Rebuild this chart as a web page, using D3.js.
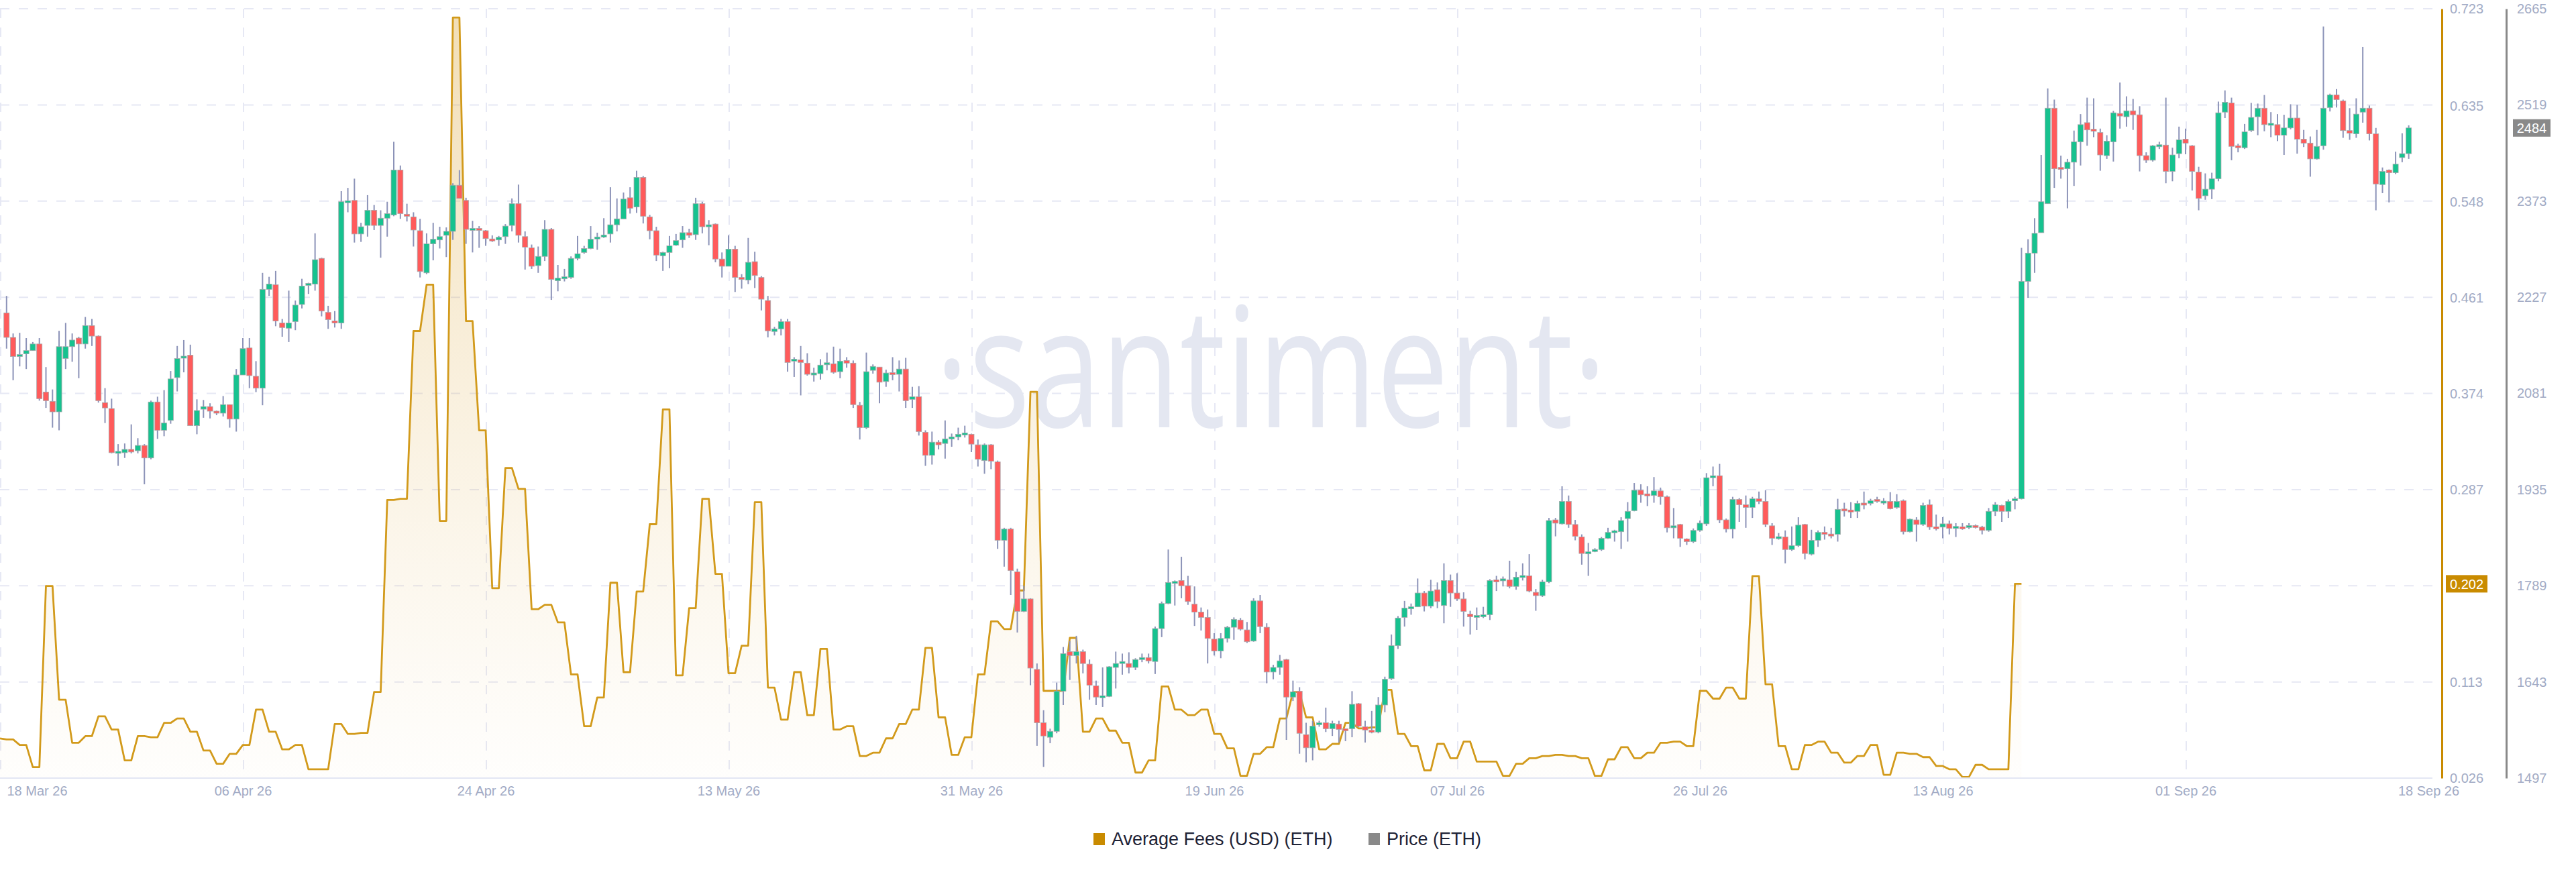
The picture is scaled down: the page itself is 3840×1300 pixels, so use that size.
<!DOCTYPE html>
<html><head><meta charset="utf-8">
<script src="https://cdn.jsdelivr.net/npm/d3@7"></script>
<style>html,body{margin:0;padding:0;background:#fff;}svg{display:block;font-family:"Liberation Sans",Arial,sans-serif;}</style>
</head><body><svg id="chart" width="3840" height="1300"></svg>
<script>
// ---- DATA ----
// 12h ETH candles [open, high, low, close]
const ohlc = [
[2203,2229,2149,2166],[2166,2172,2101,2137],[2137,2173,2122,2140],[2141,2165,2118,2146],[2146,2159,2146,2156],
[2156,2165,2070,2073],[2083,2121,2059,2070],[2069,2087,2029,2053],[2053,2176,2025,2152],[2134,2188,2118,2152],
[2152,2172,2129,2162],[2165,2167,2104,2156],[2156,2197,2149,2184],[2184,2194,2153,2168],[2168,2169,2067,2070],
[2067,2089,2036,2059],[2058,2073,1990,1991],[1991,2004,1971,1992],[1991,2005,1983,1996],[1996,2034,1990,1992],
[1994,2013,1990,2002],[2002,2004,1943,1983],[1983,2070,1981,2068],[2068,2076,2012,2025],[2025,2086,2016,2036],
[2040,2115,2035,2103],[2105,2153,2084,2134],[2135,2162,2113,2137],[2139,2155,2032,2032],[2032,2072,2019,2055],
[2057,2071,2044,2061],[2061,2066,2043,2054],[2054,2055,2048,2051],[2051,2077,2046,2064],[2064,2064,2029,2042],
[2042,2118,2023,2109],[2109,2165,2109,2149],[2150,2165,2089,2108],[2107,2130,2083,2089],[2089,2264,2063,2239],
[2239,2258,2229,2247],[2246,2267,2183,2191],[2188,2194,2167,2181],[2180,2237,2159,2188],[2190,2222,2177,2215],
[2216,2255,2210,2244],[2245,2249,2232,2248],[2247,2324,2237,2284],[2286,2287,2198,2206],[2204,2214,2179,2193],
[2191,2206,2181,2188],[2188,2388,2179,2372],[2371,2393,2356,2373],[2374,2407,2310,2323],[2323,2340,2311,2334],
[2336,2382,2319,2359],[2359,2367,2329,2336],[2336,2359,2287,2347],[2347,2372,2319,2354],[2352,2463,2350,2420],
[2420,2427,2346,2354],[2353,2369,2342,2350],[2349,2356,2304,2329],[2328,2346,2257,2266],[2264,2324,2262,2308],
[2308,2340,2283,2315],[2314,2334,2301,2319],[2321,2333,2288,2327],[2327,2400,2314,2397],[2397,2420,2377,2377],
[2374,2378,2308,2330],[2329,2343,2295,2331],[2331,2335,2302,2329],[2328,2329,2305,2316],[2315,2321,2311,2313],
[2314,2320,2305,2318],[2319,2338,2308,2335],[2336,2377,2327,2369],[2369,2398,2310,2321],[2319,2327,2269,2303],
[2302,2307,2270,2274],[2275,2304,2264,2289],[2289,2344,2282,2330],[2330,2332,2223,2254],[2252,2276,2236,2256],
[2256,2270,2251,2257],[2257,2289,2255,2286],[2286,2320,2283,2293],[2295,2305,2293,2301],[2301,2335,2300,2315],
[2316,2325,2299,2318],[2319,2347,2317,2321],[2323,2394,2310,2337],[2337,2377,2327,2346],[2346,2386,2346,2376],
[2378,2394,2354,2362],[2364,2419,2355,2409],[2409,2411,2339,2350],[2349,2352,2315,2328],[2328,2334,2282,2291],
[2290,2296,2267,2295],[2295,2320,2271,2305],[2306,2323,2305,2313],[2314,2335,2302,2325],[2325,2331,2317,2321],
[2322,2378,2314,2369],[2369,2372,2324,2334],[2334,2344,2306,2337],[2338,2339,2280,2285],[2285,2295,2257,2274],
[2274,2321,2274,2300],[2300,2305,2235,2257],[2257,2262,2240,2254],[2253,2317,2247,2280],[2281,2296,2241,2260],
[2257,2259,2207,2224],[2222,2229,2166,2176],[2175,2182,2169,2179],[2179,2194,2169,2190],[2190,2194,2114,2128],
[2130,2136,2106,2133],[2132,2153,2078,2128],[2127,2142,2108,2110],[2110,2120,2099,2111],[2111,2133,2102,2124],
[2125,2143,2116,2127],[2126,2152,2111,2113],[2114,2149,2104,2130],[2131,2136,2120,2127],[2127,2131,2059,2064],
[2063,2068,2011,2029],[2029,2143,2027,2114],[2116,2125,2111,2122],[2121,2121,2066,2098],[2099,2117,2091,2112],
[2112,2136,2101,2110],[2110,2131,2084,2118],[2118,2135,2059,2070],[2072,2091,2059,2076],[2076,2092,2017,2023],
[2022,2025,1971,1987],[1987,2023,1973,2007],[2007,2010,1996,2003],[2005,2040,1982,2012],[2012,2020,2000,2015],
[2015,2029,2010,2019],[2019,2032,2014,2020],[2019,2020,1992,2004],[2003,2011,1970,1981],[1979,2005,1959,2003],
[2003,2004,1966,1978],[1977,1979,1845,1858],[1858,1877,1818,1875],[1875,1877,1775,1812],[1810,1815,1718,1750],
[1750,1789,1749,1769],[1769,1770,1638,1664],[1662,1671,1546,1581],[1581,1600,1514,1561],[1559,1572,1550,1568],
[1568,1642,1565,1629],[1629,1696,1608,1686],[1689,1705,1646,1683],[1683,1713,1671,1689],[1689,1692,1656,1671],
[1670,1677,1616,1638],[1637,1645,1608,1620],[1620,1665,1605,1621],[1621,1667,1620,1666],[1665,1689,1633,1671],
[1671,1686,1654,1674],[1671,1688,1656,1665],[1665,1679,1661,1677],[1677,1686,1673,1680],[1680,1686,1671,1675],
[1674,1727,1655,1724],[1724,1765,1711,1762],[1762,1844,1761,1794],[1793,1797,1759,1795],[1797,1833,1770,1789],
[1789,1804,1760,1765],[1761,1788,1728,1749],[1749,1756,1721,1741],[1741,1753,1671,1709],[1708,1717,1683,1690],
[1690,1717,1679,1709],[1709,1728,1703,1726],[1726,1741,1707,1738],[1737,1740,1721,1723],[1722,1734,1702,1704],
[1705,1770,1704,1766],[1766,1775,1717,1727],[1726,1732,1641,1658],[1658,1669,1647,1665],[1665,1684,1654,1675],
[1677,1678,1555,1620],[1620,1645,1614,1628],[1629,1635,1534,1565],[1563,1581,1521,1543],[1543,1584,1524,1576],
[1578,1584,1575,1581],[1581,1604,1567,1572],[1572,1584,1561,1580],[1579,1584,1551,1571],[1571,1572,1553,1570],
[1572,1629,1559,1609],[1610,1611,1574,1576],[1575,1584,1551,1570],[1569,1599,1565,1567],[1567,1620,1565,1608],
[1608,1651,1597,1647],[1648,1715,1646,1698],[1698,1743,1693,1740],[1741,1766,1727,1755],[1755,1762,1745,1756],
[1757,1800,1757,1778],[1778,1781,1750,1758],[1758,1798,1755,1781],[1783,1794,1755,1765],[1759,1823,1732,1797],
[1797,1806,1757,1778],[1778,1808,1766,1769],[1769,1779,1727,1750],[1746,1751,1715,1742],[1742,1756,1722,1743],
[1742,1757,1740,1745],[1745,1799,1737,1797],[1798,1804,1781,1795],[1797,1803,1788,1799],[1798,1827,1785,1788],
[1788,1810,1783,1802],[1802,1823,1797,1804],[1804,1837,1779,1781],[1779,1784,1751,1774],[1774,1798,1772,1795],
[1795,1892,1793,1888],[1889,1892,1864,1884],[1883,1940,1882,1917],[1917,1926,1877,1882],[1882,1889,1858,1864],
[1863,1867,1821,1838],[1838,1854,1804,1840],[1841,1846,1840,1844],[1844,1863,1842,1861],[1861,1877,1860,1870],
[1870,1874,1856,1872],[1871,1893,1845,1888],[1891,1916,1856,1902],[1903,1945,1902,1934],[1934,1943,1915,1927],
[1928,1940,1910,1926],[1926,1954,1915,1933],[1933,1938,1912,1924],[1924,1926,1870,1877],[1877,1907,1861,1880],
[1882,1883,1848,1861],[1860,1861,1851,1856],[1856,1876,1854,1873],[1873,1888,1871,1884],[1883,1960,1880,1953],
[1953,1970,1940,1956],[1956,1974,1884,1889],[1889,1891,1870,1875],[1875,1924,1861,1920],[1920,1922,1886,1912],
[1912,1926,1877,1908],[1908,1924,1892,1921],[1921,1932,1913,1917],[1917,1934,1878,1882],[1880,1884,1851,1861],
[1861,1869,1859,1863],[1863,1873,1823,1844],[1844,1879,1842,1850],[1850,1893,1848,1881],[1882,1883,1829,1838],
[1837,1874,1835,1858],[1858,1873,1848,1870],[1870,1879,1859,1867],[1867,1877,1861,1865],[1867,1921,1856,1905],
[1905,1915,1894,1903],[1904,1916,1892,1901],[1902,1918,1892,1914],[1914,1932,1905,1912],[1914,1921,1911,1918],
[1920,1924,1915,1917],[1915,1922,1912,1917],[1917,1931,1905,1906],[1908,1928,1906,1917],[1918,1920,1867,1871],
[1871,1891,1870,1890],[1889,1893,1856,1882],[1882,1915,1880,1911],[1912,1920,1874,1878],[1878,1897,1873,1876],
[1878,1893,1861,1883],[1883,1888,1867,1876],[1876,1884,1863,1879],[1878,1884,1874,1876],[1878,1884,1875,1880],
[1880,1882,1876,1878],[1878,1880,1867,1873],[1873,1907,1871,1902],[1902,1916,1895,1912],[1911,1912,1886,1902],
[1902,1920,1892,1917],[1918,1924,1905,1921],[1921,2302,1920,2251],[2251,2315,2226,2294],[2294,2347,2264,2324],
[2325,2443,2325,2372],[2369,2544,2369,2514],[2514,2527,2393,2422],[2423,2442,2407,2422],[2422,2437,2362,2432],
[2432,2480,2396,2463],[2463,2505,2427,2489],[2492,2530,2457,2481],[2482,2529,2470,2479],[2477,2483,2419,2443],
[2442,2473,2437,2464],[2463,2510,2433,2507],[2506,2553,2483,2502],[2501,2532,2486,2510],[2510,2528,2481,2504],
[2504,2517,2418,2442],[2442,2447,2431,2435],[2435,2458,2433,2457],[2457,2463,2452,2457],[2458,2530,2400,2418],
[2418,2454,2403,2443],[2445,2486,2438,2466],[2467,2483,2444,2461],[2457,2458,2389,2418],[2417,2425,2359,2377],
[2381,2415,2375,2391],[2391,2416,2376,2407],[2407,2524,2403,2507],[2508,2541,2499,2523],[2522,2530,2435,2456],
[2457,2460,2447,2454],[2454,2490,2452,2478],[2480,2522,2478,2500],[2501,2521,2473,2514],[2514,2534,2479,2489],
[2489,2508,2470,2490],[2489,2505,2464,2473],[2473,2504,2443,2484],[2484,2520,2482,2499],[2499,2519,2445,2467],
[2467,2481,2455,2461],[2461,2471,2410,2437],[2437,2481,2436,2456],[2457,2638,2451,2514],[2515,2536,2509,2534],
[2534,2543,2515,2527],[2525,2527,2469,2480],[2480,2514,2466,2476],[2475,2529,2469,2505],[2508,2607,2492,2514],
[2514,2518,2465,2475],[2475,2484,2359,2399],[2398,2424,2385,2418],[2420,2421,2371,2416],[2416,2448,2414,2429],
[2439,2476,2432,2445],[2445,2488,2437,2484]
];
// daily average fee (USD) — each day spans two 12h slots
const avgFeesDaily = [
0.062,0.061,0.056,0.036,0.200,0.097,0.058,0.064,0.082,0.070,0.042,0.064,0.063,0.076,0.080,0.068,
0.051,0.039,0.048,0.056,0.088,0.068,0.052,0.056,0.034,0.034,0.075,0.066,0.067,0.104,0.278,0.279,
0.431,0.473,0.259,0.715,0.440,0.341,0.198,0.307,0.288,0.179,0.183,0.167,0.120,0.073,0.099,0.203,
0.122,0.195,0.256,0.360,0.119,0.180,0.279,0.211,0.121,0.146,0.276,0.108,0.079,0.122,0.083,
0.143,0.070,0.073,0.046,0.049,0.062,0.075,0.088,0.144,0.081,0.047,0.063,0.120,0.168,0.161,0.196,
0.376,0.105,0.105,0.153,0.068,0.080,0.069,0.058,0.031,0.042,0.109,0.088,0.083,0.088,
0.066,0.053,0.028,0.048,0.054,0.080,0.104,0.081,0.052,0.057,0.076,0.071,0.072,0.106,0.066,0.055,
0.033,0.057,0.044,0.059,0.041,0.041,0.028,0.039,0.044,0.046,0.047,0.046,0.044,0.028,0.043,
0.054,0.044,0.049,0.058,0.059,0.055,0.105,0.098,0.108,0.098,0.209,0.111,0.055,0.034,0.056,0.059,
0.049,0.040,0.046,0.056,0.029,0.049,0.048,0.045,0.037,0.034,0.027,0.038,0.034,0.034,0.202
];
const xTickLabels = ["18 Mar 26","06 Apr 26","24 Apr 26","13 May 26","31 May 26","19 Jun 26","07 Jul 26","26 Jul 26","13 Aug 26","01 Sep 26","18 Sep 26"];
const feeTickValues = [0.026,0.113,0.200,0.287,0.374,0.461,0.548,0.635,0.723];
const feeTickLabels = ["0.026","0.113","0.200","0.287","0.374","0.461","0.548","0.635","0.723"];
const priceTickValues = [1497,1643,1789,1935,2081,2227,2373,2519,2665];
const seriesNames = ["Average Fees (USD) (ETH)","Price (ETH)"];
const seriesColors = ["#c98b00","#898989"];
const lastFee = 0.202, lastPrice = 2484;

// ---- LAYOUT ----
const svg = d3.select("#chart");
const plotTop = 13, plotBottom = 1160, plotRight = 3626;
const feeAxisX = 3640, priceAxisX = 3736;
const slotsTotal = 370;

const x = d3.scaleLinear().domain([0, slotsTotal]).range([0, 3620]);
const yFee = d3.scaleLinear().domain([0.026, 0.723]).range([plotBottom, plotTop]);
const yPrice = d3.scaleLinear().domain([1497, 2665]).range([plotBottom, plotTop]);

const defs = svg.append("defs");
const grad = defs.append("linearGradient").attr("id","feeGrad")
  .attr("gradientUnits","userSpaceOnUse").attr("x1",0).attr("x2",0).attr("y1",plotTop).attr("y2",plotBottom);
grad.append("stop").attr("offset","0%").attr("stop-color","#d9a233").attr("stop-opacity",0.36);
grad.append("stop").attr("offset","100%").attr("stop-color","#e8c070").attr("stop-opacity",0.02);

svg.append("rect").attr("width",3840).attr("height",1300).attr("fill","#fff");

// grid
const grid = svg.append("g");
grid.selectAll(".hg").data(priceTickValues.slice(1)).join("line")
  .attr("x1",0).attr("x2",plotRight).attr("y1",d=>yPrice(d)).attr("y2",d=>yPrice(d))
  .attr("stroke","#e6e8f4").attr("stroke-width",2).attr("stroke-dasharray","14,14");
const tickIdx = xTickLabels.map((_,i)=> i*slotsTotal/(xTickLabels.length-1));
grid.selectAll(".vg").data(tickIdx.slice(0,-1)).join("line")
  .attr("x1",d=>x(d)+1).attr("x2",d=>x(d)+1).attr("y1",plotTop).attr("y2",plotBottom)
  .attr("stroke","#e6e8f4").attr("stroke-width",2).attr("stroke-dasharray","14,14");

// watermark
svg.append("text").text("·santiment·")
  .attr("x",1394).attr("y",637).attr("textLength",1001).attr("lengthAdjust","spacingAndGlyphs")
  .attr("font-family","'Open Sans',sans-serif").attr("font-size",250)
  .attr("fill","#e4e7f1");

// fee series points
const feePts = [[0, avgFeesDaily[0]]];
for (let k=1;k<avgFeesDaily.length;k++){ feePts.push([2*k-1, avgFeesDaily[k]]); feePts.push([2*k, avgFeesDaily[k]]); }
svg.append("path").datum(feePts)
  .attr("d", d3.area().x(d=>x(d[0])).y0(plotBottom).y1(d=>yFee(d[1])))
  .attr("fill","url(#feeGrad)");
svg.append("path").datum(feePts)
  .attr("d", d3.line().x(d=>x(d[0])).y(d=>yFee(d[1])))
  .attr("fill","none").attr("stroke","#d29a1b").attr("stroke-width",2.8).attr("stroke-linejoin","round");

// candles
const cg = svg.append("g");
const candles = ohlc.map((d,i)=>({i:i+1,o:d[0],h:d[1],l:d[2],c:d[3]}));
cg.selectAll(".wick").data(candles).join("line")
  .attr("x1",d=>x(d.i)).attr("x2",d=>x(d.i)).attr("y1",d=>yPrice(d.h)).attr("y2",d=>yPrice(d.l))
  .attr("stroke","#8c93b8").attr("stroke-width",2);
cg.selectAll(".body").data(candles).join("rect")
  .attr("x",d=>x(d.i)-4).attr("width",8)
  .attr("y",d=>{const a=yPrice(Math.max(d.o,d.c)), b=yPrice(Math.min(d.o,d.c)); return (b-a<3)?(a+b)/2-1.5:a;})
  .attr("height",d=>Math.max(3, yPrice(Math.min(d.o,d.c))-yPrice(Math.max(d.o,d.c))))
  .attr("fill",d=>d.c>=d.o?"#17c28f":"#ff5b5b")
  .attr("stroke","#a8a8ab").attr("stroke-width",0.8);

// x axis
svg.append("line").attr("x1",0).attr("x2",plotRight).attr("y1",plotBottom).attr("y2",plotBottom)
  .attr("stroke","#e3e6f4").attr("stroke-width",2);
const xAxis = svg.append("g").attr("transform",`translate(0,${plotBottom})`)
  .call(d3.axisBottom(x).tickValues(tickIdx).tickFormat((d,i)=>xTickLabels[i]).tickSize(0).tickPadding(12));
xAxis.select(".domain").remove();
xAxis.selectAll("text").attr("font-size",20).attr("fill","#a2abc5").attr("font-family","'Liberation Sans',Arial,sans-serif");
xAxis.selectAll(".tick").filter((d,i)=>i===0).select("text").attr("text-anchor","start").attr("x",10);

// fee axis
const fAx = svg.append("g").attr("transform",`translate(${feeAxisX},0)`)
  .call(d3.axisRight(yFee).tickValues(feeTickValues).tickFormat((d,i)=>feeTickLabels[i]).tickSize(0).tickSizeOuter(0).tickPadding(12));
fAx.select(".domain").attr("stroke","#c98b00").attr("stroke-width",3);
fAx.selectAll("text").attr("font-size",20).attr("fill","#a2abc5").attr("font-family","'Liberation Sans',Arial,sans-serif");

// price axis
const pAx = svg.append("g").attr("transform",`translate(${priceAxisX},0)`)
  .call(d3.axisRight(yPrice).tickValues(priceTickValues).tickFormat(d3.format("d")).tickSize(0).tickSizeOuter(0).tickPadding(16));
pAx.select(".domain").attr("stroke","#898989").attr("stroke-width",3);
pAx.selectAll("text").attr("font-size",20).attr("fill","#a2abc5").attr("font-family","'Liberation Sans',Arial,sans-serif");

// last value labels
const fy = yFee(lastFee);
svg.append("rect").attr("x",3646).attr("y",fy-13).attr("width",62).attr("height",26).attr("fill","#c98b00");
svg.append("text").attr("x",3677).attr("y",fy).attr("dy","0.36em").attr("text-anchor","middle")
  .attr("font-size",20).attr("fill","#fff").text(d3.format(".3f")(lastFee));
const py = yPrice(lastPrice);
svg.append("rect").attr("x",3746).attr("y",py-13).attr("width",56).attr("height",26).attr("fill","#898989");
svg.append("text").attr("x",3774).attr("y",py).attr("dy","0.36em").attr("text-anchor","middle")
  .attr("font-size",20).attr("fill","#fff").text(lastPrice);

// legend
const legendPos = [1630, 2040];
const lg = svg.append("g");
seriesNames.forEach((name,i)=>{
  lg.append("rect").attr("x",legendPos[i]).attr("y",1242).attr("width",17).attr("height",18).attr("fill",seriesColors[i]);
  lg.append("text").attr("x",legendPos[i]+27).attr("y",1251).attr("dy","0.35em")
    .attr("font-size",27).attr("fill","#1e2235").text(name);
});
</script></body></html>
